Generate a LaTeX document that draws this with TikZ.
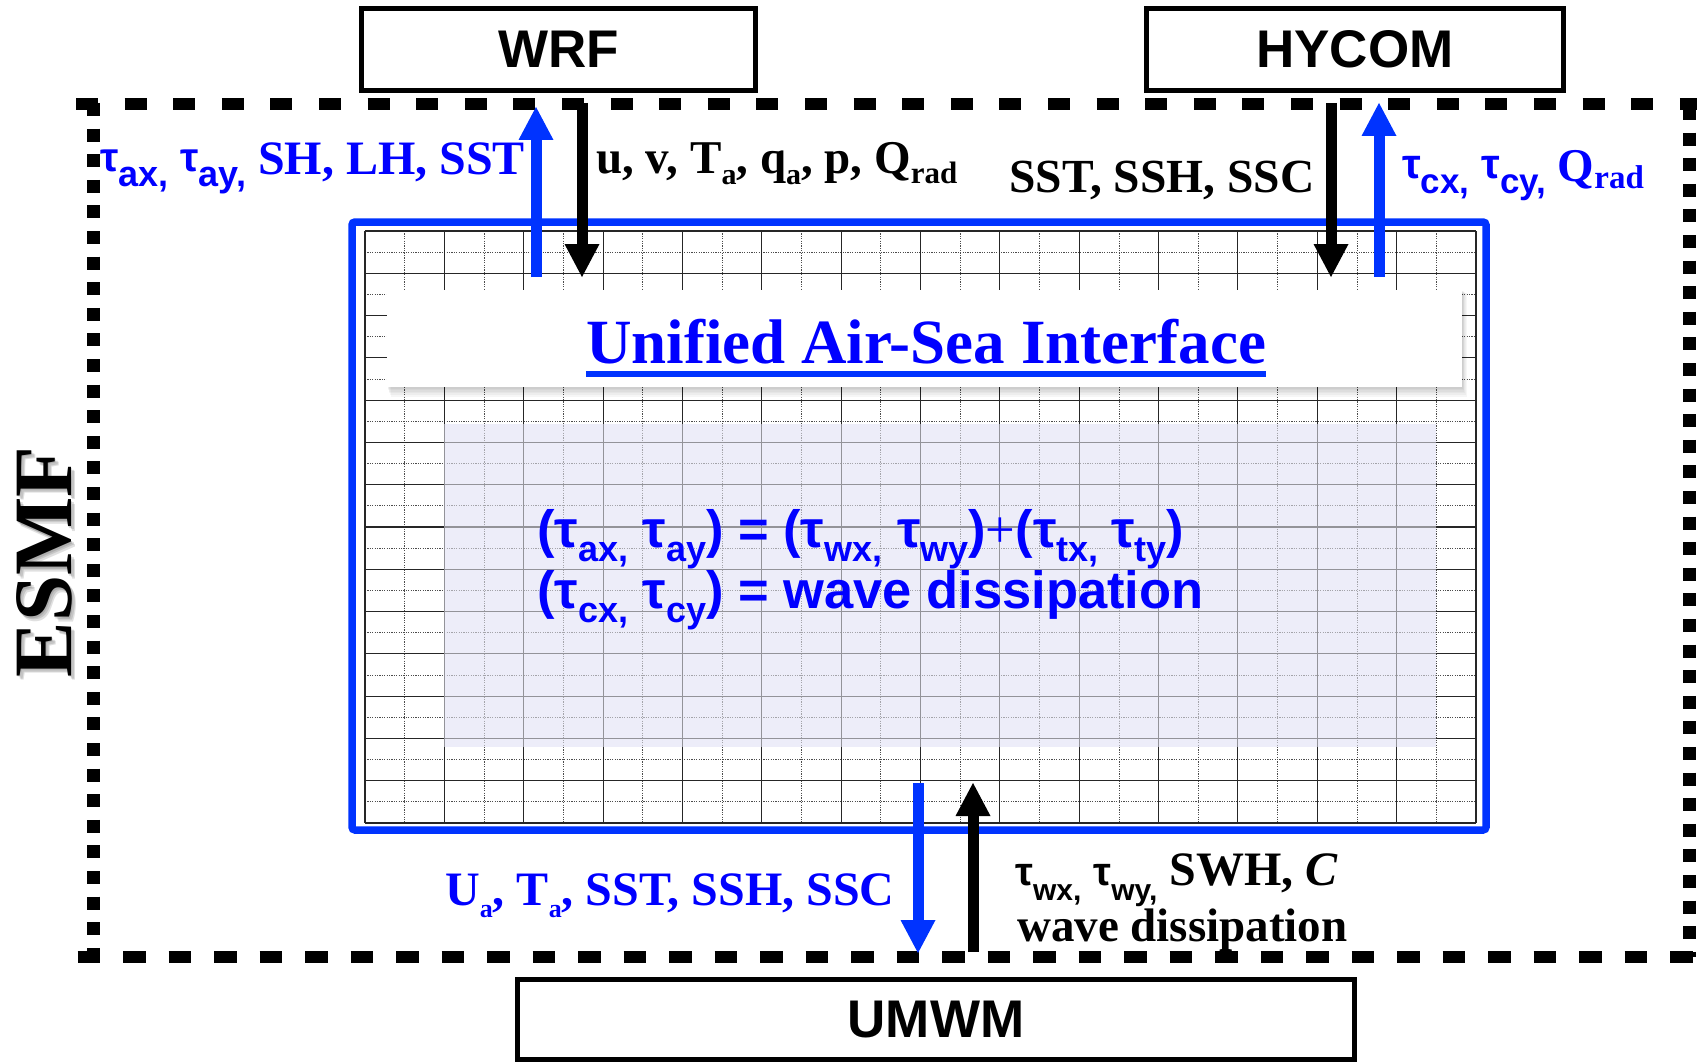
\documentclass[tikz,border=0pt]{standalone}
\usepackage{fontspec}
\setmainfont{Liberation Serif}
\newfontfamily\sansf{Liberation Sans}
\usepackage{graphicx}
\usetikzlibrary{arrows.meta}
\definecolor{tblue}{RGB}{0,0,255}
\definecolor{ablue}{RGB}{0,51,255}
\definecolor{lav}{RGB}{237,237,249}
\newcommand\fs[1]{\fontsize{#1}{#1}\selectfont}
\newcommand\tauS[4]{{\sansf\bfseries\fs{#1}τ}\raisebox{-#3}{\sansf\bfseries\fs{#2}#4}}
\newcommand\subS[3]{\raisebox{-#2}{\fs{#1}#3}}
\begin{document}
\begin{tikzpicture}[x=1pt,y=-1pt,
  lbl/.style={inner sep=0pt, anchor=base west, font=\bfseries\fs{46}},
  modbox/.style={draw, line width=5pt, fill=white, inner sep=0pt, font=\sansf\bfseries\fs{53}},
  gsolid/.style={line width=1.1pt, black!85},
  gdot/.style={line width=0.8pt, black!70, dash pattern=on 1.2pt off 1.2pt},
  bluearrow/.style={ablue, line width=11pt, -{Triangle[width=35pt,length=33pt,line width=0pt]}},
  blackarrow/.style={black, line width=11pt, -{Triangle[width=35pt,length=33pt,line width=0pt]}},
  frameh/.style={line width=12pt},
  framev/.style={line width=13pt, dash pattern=on 13pt off 12.6pt}]
\useasboundingbox (0,0) rectangle (1697,1062);

% ESMF dashed frame
\draw[frameh, dash pattern=on 22pt off 26.6pt] (76,104) -- (1697,104);
\draw[frameh, dash pattern=on 22.5pt off 23pt] (77.5,957) -- (1697,957);
\draw[framev] (93,103) -- (93,957);
\draw[framev] (1689,107) -- (1689,957);

% ESMF label with soft shadow
\foreach \s in {1.5,3,4.5}{
  \node[rotate=90, inner sep=0pt, text=black, opacity=0.12, font=\bfseries\fs{83}] at (44+\s,562+\s) {ESMF};}
\node[rotate=90, inner sep=0pt, font=\bfseries\fs{83}] (esmf) at (44,562) {ESMF};

% interface region: grid
\fill[lav] (444,424) rectangle (1436,747);
\foreach \k in {0,...,13}{
  \pgfmathsetmacro\xx{365+79.357*\k+39.68}
  \draw[gdot] (\xx,231) -- (\xx,823);}
\foreach \j in {0,...,13}{
  \pgfmathsetmacro\yy{231+42.286*\j+21.143}
  \draw[gdot] (365,\yy) -- (1476,\yy);}
\foreach \k in {0,...,14}{
  \pgfmathsetmacro\xx{365+79.357*\k}
  \draw[gsolid] (\xx,231) -- (\xx,823);}
\foreach \j in {0,...,14}{
  \pgfmathsetmacro\yy{231+42.286*\j}
  \draw[gsolid] (365,\yy) -- (1476,\yy);}
\fill[lav, opacity=0.55] (444,424) rectangle (1436,747);

% blue frame
\draw[ablue, line width=7.5pt, rounded corners=3pt] (352,222) rectangle (1486,830);

% banner with shadow
\foreach \s in {1,2,...,6}{
  \fill[black, opacity=0.035] (387+0.6*\s,290+0.5*\s) rectangle (1462+0.8*\s,387+1.6*\s);}
\fill[white] (387,290) rectangle (1462,387);
\node[inner sep=0pt, anchor=base, text=tblue, font=\bfseries\fs{63}] (title) at (926,363) {Unified Air-Sea Interface};
\draw[ablue, line width=6pt] ([yshift=-11pt]title.base west) -- ([yshift=-11pt]title.base east);

% equations
\node[lbl, text=tblue, font=\sansf\bfseries\fs{52.5}] (eq1) at (537,547)
  {(\tauS{52.5}{36}{14pt}{ax,} \tauS{52.5}{36}{14pt}{ay}) = (\tauS{52.5}{36}{14pt}{wx,} \tauS{52.5}{36}{14pt}{wy}){\rmfamily\mdseries +}(\tauS{52.5}{36}{14pt}{tx,}\hspace{-2pt} \tauS{52.5}{36}{14pt}{ty})};
\node[lbl, text=tblue, font=\sansf\bfseries\fs{52.5}] (eq2) at (537,608)
  {(\tauS{52.5}{36}{14pt}{cx,} \tauS{52.5}{36}{14pt}{cy}) = wave dissipation};

% model boxes
\node[modbox, minimum width=394pt, minimum height=82pt] (wrf) at (558.5,49.5) {WRF};
\node[modbox, minimum width=417pt, minimum height=82pt] (hycom) at (1355,49.5) {HYCOM};
\node[modbox, minimum width=837pt, minimum height=80pt] (umwm) at (936,1019.5) {UMWM};

% arrow end points
\coordinate (wrfUpS) at (536,277);   \coordinate (wrfUpE) at (536,107);
\coordinate (wrfDnS) at (582,103);   \coordinate (wrfDnE) at (582,277);
\coordinate (hyDnS) at (1331,103);   \coordinate (hyDnE) at (1331,277);
\coordinate (hyUpS) at (1379,277);   \coordinate (hyUpE) at (1379,103);
\coordinate (wvDnS) at (918,783);    \coordinate (wvDnE) at (918,953);
\coordinate (wvUpS) at (973,952);    \coordinate (wvUpE) at (973,783);

\draw[bluearrow] (wrfUpS) -- (wrfUpE);
\draw[blackarrow] (wrfDnS) -- (wrfDnE);
\draw[blackarrow] (hyDnS) -- (hyDnE);
\draw[bluearrow] (hyUpS) -- (hyUpE);
\draw[bluearrow] (wvDnS) -- (wvDnE);
\draw[blackarrow] (wvUpS) -- (wvUpE);

% labels
\node[lbl, text=tblue, font=\bfseries\fs{48}] (lA) at (100,175)
  {\raisebox{3pt}{\tauS{41}{36}{15pt}{ax,}} \raisebox{3pt}{\tauS{41}{36}{15pt}{ay,}} SH, LH, SST};
\node[lbl, font=\bfseries\fs{47}] (lB) at (596,173)
  {u, v, T\subS{30}{11pt}{a}, q\subS{30}{11pt}{a}, p, Q\subS{31}{10pt}{rad}};
\node[lbl, font=\bfseries\fs{47.5}] (lC) at (1009,192) {SST, SSH, SSC};
\node[lbl, text=tblue, font=\bfseries\fs{47}] (lD) at (1402,182)
  {\raisebox{3pt}{\tauS{42}{35}{15pt}{cx,}} \raisebox{3pt}{\tauS{42}{35}{15pt}{cy,}} Q\subS{33}{6pt}{rad}};
\node[lbl, text=tblue, font=\bfseries\fs{48}] (lE) at (445,905)
  {U\subS{26}{12pt}{a}, T\subS{26}{12pt}{a}, SST, SSH, SSC};
\node[lbl, font=\bfseries\fs{48}] (lF) at (1015,885)
  {\tauS{40}{30}{15pt}{wx,} \tauS{40}{30}{15pt}{wy,} SWH, \textit{C}};
\node[lbl, font=\bfseries\fs{47}] (lG) at (1017,941) {wave dissipation};
\end{tikzpicture}
\end{document}
